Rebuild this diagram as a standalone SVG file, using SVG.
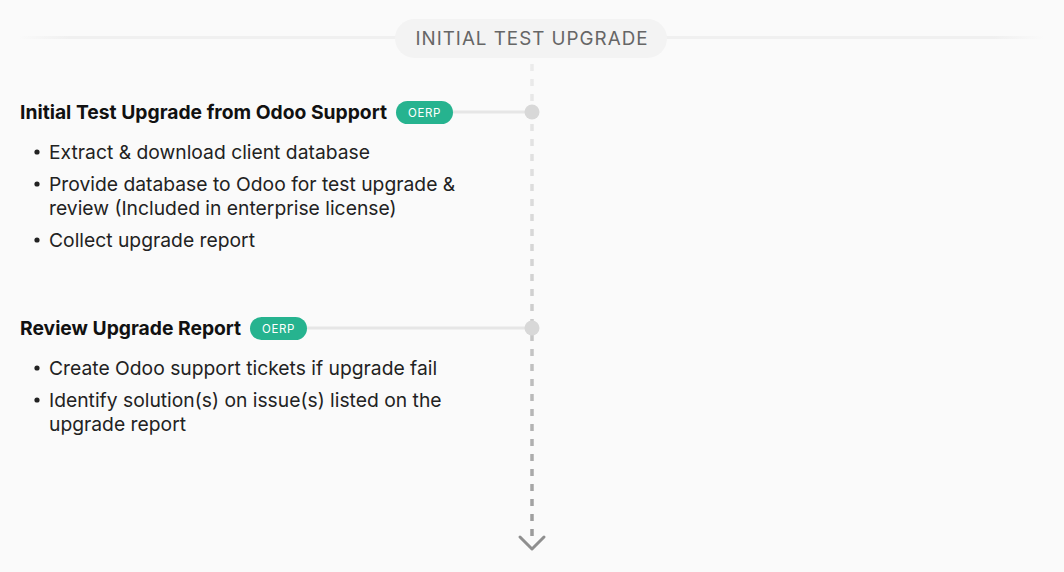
<svg xmlns="http://www.w3.org/2000/svg" width="1064" height="572" viewBox="0 0 1064 572">
<style>
.h{font-family:Inter,"Liberation Sans",sans-serif;font-size:19.3px;font-weight:700;fill:#111}
.b{font-family:Inter,"Liberation Sans",sans-serif;font-size:19.3px;fill:#222}
.badge-t{font-family:Inter,"Liberation Sans",sans-serif;font-size:11.5px;font-weight:400;fill:#fff;letter-spacing:0.6px}
.title{font-family:Inter,"Liberation Sans",sans-serif;font-size:18.8px;fill:#666;letter-spacing:1px}
.badge{fill:#26b38f}
.link{stroke:#e6e6e6;stroke-width:3;fill:none}
.dot{fill:#d8d8d8}
</style>
<defs>
<linearGradient id="vg" gradientUnits="userSpaceOnUse" x1="0" y1="60" x2="0" y2="540">
<stop offset="0" stop-color="#ececec"/>
<stop offset="0.5" stop-color="#cfcfcf"/>
<stop offset="1" stop-color="#9a9a9a"/>
</linearGradient>
<linearGradient id="hg" x1="0" y1="0" x2="1" y2="0">
<stop offset="0" stop-color="#f0f0f0" stop-opacity="0"/>
<stop offset="0.05" stop-color="#f0f0f0"/>
<stop offset="0.95" stop-color="#f0f0f0"/>
<stop offset="1" stop-color="#f0f0f0" stop-opacity="0"/>
</linearGradient>
</defs>
<rect width="1064" height="572" fill="#fafafa"/>
<rect x="18" y="36" width="1026" height="3" fill="url(#hg)"/>
<g id="connectors">
<line x1="532" y1="64" x2="532" y2="538" stroke="url(#vg)" stroke-width="3.5" stroke-dasharray="7 8"/>
<polyline points="520,537 532,549 544,537" fill="none" stroke="#8f8f8f" stroke-width="3" stroke-linecap="round" stroke-linejoin="round"/>
<line class="link" x1="453" y1="112" x2="532" y2="112"/>
<line class="link" x1="307" y1="328" x2="532" y2="328"/>
</g>
<g id="title">
<rect x="395" y="19" width="272" height="39" rx="19.5" fill="#f3f3f3"/>
<text class="title" x="532" y="45" text-anchor="middle">INITIAL TEST UPGRADE</text>
</g>
<g id="step1">
<circle class="dot" cx="532" cy="112" r="7.5"/>
<text class="h" x="20" y="118.5">Initial Test Upgrade from Odoo Support</text>
<rect class="badge" x="396" y="101" width="57" height="23" rx="11.5"/>
<text class="badge-t" x="424.5" y="116.5" text-anchor="middle">OERP</text>
<circle cx="37" cy="152" r="2.6" fill="#222"/>
<text class="b" x="49" y="158.5">Extract &amp; download client database</text>
<circle cx="37" cy="184" r="2.6" fill="#222"/>
<text class="b" x="49" y="190.5">Provide database to Odoo for test upgrade &amp;</text>
<text class="b" x="49" y="214.5">review (Included in enterprise license)</text>
<circle cx="37" cy="240" r="2.6" fill="#222"/>
<text class="b" x="49" y="246.5">Collect upgrade report</text>
</g>
<g id="step2">
<circle class="dot" cx="532" cy="328" r="7.5"/>
<text class="h" x="20" y="334.5">Review Upgrade Report</text>
<rect class="badge" x="250" y="317" width="57" height="23" rx="11.5"/>
<text class="badge-t" x="278.5" y="332.5" text-anchor="middle">OERP</text>
<circle cx="37" cy="368" r="2.6" fill="#222"/>
<text class="b" x="49" y="374.5">Create Odoo support tickets if upgrade fail</text>
<circle cx="37" cy="400" r="2.6" fill="#222"/>
<text class="b" x="49" y="406.5">Identify solution(s) on issue(s) listed on the</text>
<text class="b" x="49" y="430.5">upgrade report</text>
</g>
</svg>
